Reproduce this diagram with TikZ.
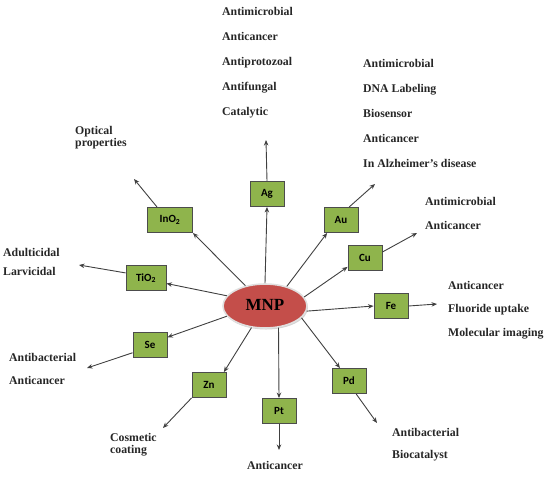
\documentclass[tikz,border=0pt]{standalone}
\usepackage{fontspec}
\setmainfont{Liberation Serif}
\newfontfamily\boxfont{Carlito}
\usetikzlibrary{arrows.meta,shapes.geometric,shadows}
\definecolor{boxgreen}{RGB}{143,180,76}
\definecolor{mnpred}{RGB}{196,78,74}

\begin{document}
\begin{tikzpicture}[x=1pt,y=-1pt,
    metal/.style={draw=black!70, line width=0.9pt, fill=boxgreen, minimum width=34pt,
      minimum height=25pt, inner sep=1pt, font=\boxfont\bfseries\fontsize{11}{13}\selectfont},
    mnp/.style={ellipse, fill=mnpred, draw=black!12, line width=1.6pt, minimum width=84pt,
      minimum height=44pt, inner sep=0pt, font=\bfseries\fontsize{17}{20}\selectfont,
      drop shadow={shadow xshift=1pt, shadow yshift=-1.5pt, opacity=0.35}},
    link/.style={draw=black!75, line width=0.9pt, -{Stealth[length=5.5pt,width=4.5pt]}},
    usetext/.style={anchor=mid west, inner sep=0pt, text=black!85,
      font=\bfseries\fontsize{11.8}{13}\selectfont}]
  %%%%% START %%%%%
  \useasboundingbox (0,0) rectangle (551,485);

  % centre and metals
  \node[mnp] (mnp) at (265,306) {\raisebox{3pt}{MNP}};
  \node[metal] (ag) at (267,194) {Ag};
  \node[metal] (au) at (341,220) {Au};
  \node[metal] (cu) at (365,258) {Cu};
  \node[metal] (fe) at (391,306) {Fe};
  \node[metal] (pd) at (349,381) {Pd};
  \node[metal] (pt) at (279,411) {Pt};
  \node[metal] (zn) at (209,385) {Zn};
  \node[metal] (se) at (150,345) {Se};
  \node[metal, minimum width=40pt] (tio) at (146,278) {TiO\textsubscript{2}};
  \node[metal, minimum width=45pt] (ino) at (170,220) {InO\textsubscript{2}};

  % spokes
  \draw[link] (mnp.90) -- (ag.south);
  \draw[link] (mnp.42) -- (au.223);
  \draw[link] (mnp.13) -- (cu.207);
  \draw[link] (mnp.-7) -- (fe.west);
  \draw[link] (mnp.-18) -- (pd.125);
  \draw[link] (mnp.-58) -- (pt.north);
  \draw[link] (mnp.-122) -- (zn.41);
  \draw[link] (mnp.195) -- (se.24);
  \draw[link] (mnp.165) -- (tio.-15);
  \draw[link] (mnp.134) -- (ino.south east);

  % outgoing arrows
  \coordinate (agend) at (266,140);
  \coordinate (auend) at (375,184);
  \coordinate (cuend) at (417,233);
  \coordinate (feend) at (437,304);
  \coordinate (pdend) at (377,423);
  \coordinate (ptend) at (279,450);
  \coordinate (znend) at (163,428);
  \coordinate (seend) at (87,368);
  \coordinate (tioend) at (79,265);
  \coordinate (inoend) at (134,179);
  \draw[link] (ag.north) -- (agend);
  \draw[link] (au.58) -- (auend);
  \draw[link] (cu.19) -- (cuend);
  \draw[link] (fe.east) -- (feend);
  \draw[link] (pd.-61) -- (pdend);
  \draw[link] (pt.south) -- (ptend);
  \draw[link] (zn.south west) -- (znend);
  \draw[link] (se.204) -- (seend);
  \draw[link] (tio.166) -- (tioend);
  \draw[link] (ino.135) -- (inoend);

  % uses
  \foreach \t [count=\i] in {Antimicrobial,Anticancer,Antiprotozoal,Antifungal,Catalytic}
    \node[usetext] (ag-\i) at (222,{13+25*(\i-1)}) {\t};
  \foreach \t [count=\i] in {Antimicrobial,DNA Labeling,Biosensor,Anticancer,In Alzheimer’s disease}
    \node[usetext] (au-\i) at (363,{65+25*(\i-1)}) {\t};
  \foreach \t [count=\i] in {Antimicrobial,Anticancer}
    \node[usetext] (cu-\i) at (425,{203+24*(\i-1)}) {\t};
  \foreach \t [count=\i] in {Anticancer,Fluoride uptake,Molecular imaging}
    \node[usetext] (fe-\i) at (448,{287+23.5*(\i-1)}) {\t};
  \foreach \t [count=\i] in {Antibacterial,Biocatalyst}
    \node[usetext] (pd-\i) at (392,{434+22*(\i-1)}) {\t};
  \node[usetext, anchor=mid] (pt-1) at (275,467) {Anticancer};
  \node[usetext] (zn-1) at (110,439) {Cosmetic};
  \node[usetext] (zn-2) at (110,451) {coating};
  \foreach \t [count=\i] in {Antibacterial,Anticancer}
    \node[usetext] (se-\i) at (9,{359+23*(\i-1)}) {\t};
  \node[usetext] (tio-1) at (3,254) {Adulticidal};
  \node[usetext] (tio-2) at (3,273) {Larvicidal};
  \node[usetext] (ino-1) at (75,132) {Optical};
  \node[usetext] (ino-2) at (75,144) {properties};

  %%%%% END %%%%%
\end{tikzpicture}
\end{document}
